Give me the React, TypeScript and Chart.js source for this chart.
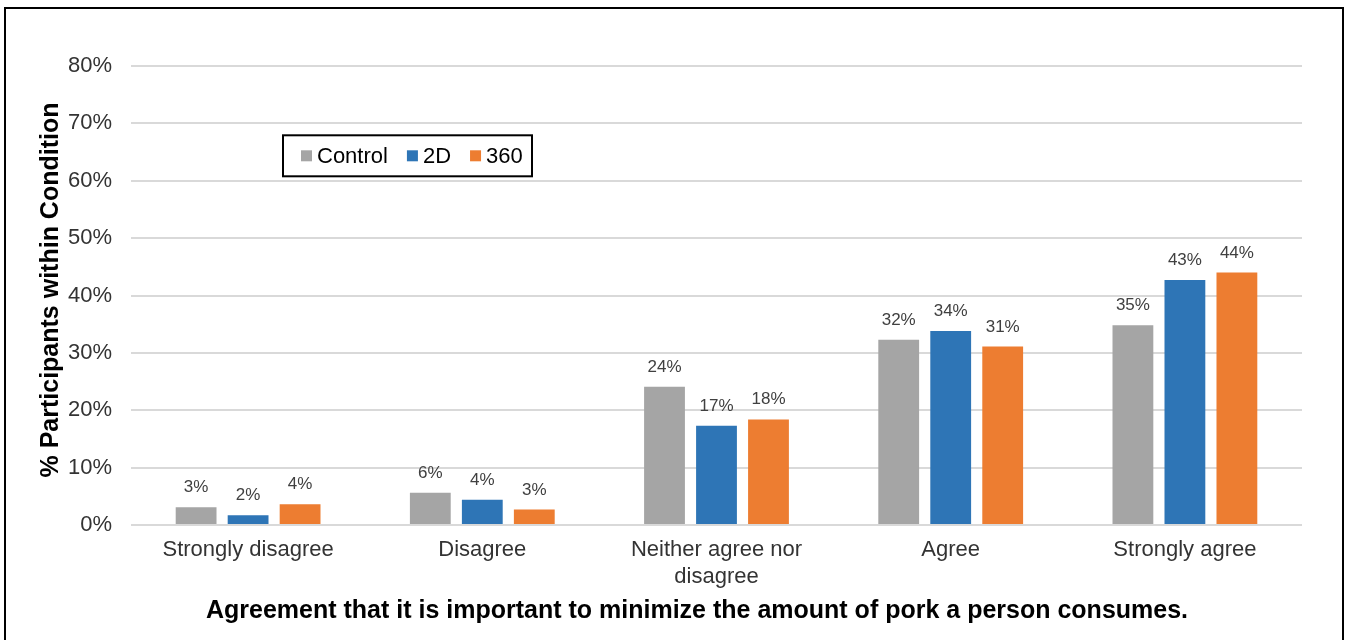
import { useEffect, useRef } from "react";
import { Chart, registerables } from "chart.js";

Chart.register(...registerables);

const FONT = "'Liberation Sans', Arial, Helvetica, sans-serif";

// Response categories along the x axis
const categories: string[][] = [
  ["Strongly disagree"],
  ["Disagree"],
  ["Neither agree nor", "disagree"],
  ["Agree"],
  ["Strongly agree"],
];

// Percentage of participants within each condition
const seriesNames = ["Control", "2D", "360"];
const controlValues = [3.1, 5.6, 24.1, 32.3, 34.8];
const twoDValues = [1.7, 4.4, 17.3, 33.8, 42.7];
const threeSixtyValues = [3.6, 2.7, 18.4, 31.1, 44.0];
const seriesColors = ["#A5A5A5", "#2E75B6", "#ED7D31"];

// Value axis
const yMin = 0;
const yMax = 80;
const yStep = 10;

const yTitle = "% Participants within Condition";
const xTitle = "Agreement that it is important to minimize the amount of pork a person consumes.";

// Outer frame around the whole figure
const framePlugin = {
  id: "frame",
  afterDraw(chart: any) {
    const { ctx, width, height } = chart;
    ctx.save();
    ctx.fillStyle = "#000";
    ctx.fillRect(4, 7, width - 9, 2);
    ctx.fillRect(4, 7, 2, height);
    ctx.fillRect(width - 7, 7, 2, height);
    ctx.restore();
  },
};

// Percent labels above each bar
const valueLabelPlugin = {
  id: "valueLabels",
  afterDatasetsDraw(chart: any) {
    const { ctx } = chart;
    ctx.save();
    ctx.font = `17px ${FONT}`;
    ctx.fillStyle = "#404040";
    ctx.textAlign = "center";
    ctx.textBaseline = "alphabetic";
    chart.data.datasets.forEach((ds: any, di: number) => {
      const meta = chart.getDatasetMeta(di);
      meta.data.forEach((bar: any, i: number) => {
        const v = ds.data[i] as number;
        ctx.fillText(`${Math.round(v)}%`, bar.x, bar.y - 15);
      });
    });
    ctx.restore();
  },
};

// Boxed legend placed inside the plot area
const legendBoxPlugin = {
  id: "legendBox",
  afterDraw(chart: any) {
    const { ctx, chartArea } = chart;
    const left = chartArea.left + 152;
    const top = chartArea.top + 69.3;
    const w = 249;
    const h = 41;
    ctx.save();
    ctx.fillStyle = "#fff";
    ctx.fillRect(left, top, w, h);
    ctx.lineWidth = 2;
    ctx.strokeStyle = "#000";
    ctx.strokeRect(left, top, w, h);
    ctx.font = `22px ${FONT}`;
    ctx.textBaseline = "middle";
    ctx.textAlign = "left";
    const cy = top + h / 2;
    let x = left + 18;
    chart.data.datasets.forEach((ds: any) => {
      ctx.fillStyle = ds.backgroundColor;
      ctx.fillRect(x, cy - 5.5, 11, 11);
      x += 16;
      ctx.fillStyle = "#000";
      ctx.fillText(ds.label, x, cy + 1);
      x += ctx.measureText(ds.label).width + 19;
    });
    ctx.restore();
  },
};

// Bold axis titles: one under the category axis, one rotated beside the value axis
const axisTitlePlugin = {
  id: "axisTitles",
  afterDraw(chart: any) {
    const { ctx, chartArea } = chart;
    ctx.save();
    ctx.font = `bold 25px ${FONT}`;
    ctx.fillStyle = "#000";
    ctx.textAlign = "center";
    ctx.textBaseline = "alphabetic";
    ctx.fillText(xTitle, (chartArea.left + chartArea.right) / 2 - 19.5, chartArea.bottom + 93);

    ctx.translate(57.5, (chartArea.top + chartArea.bottom) / 2 - 5.5);
    ctx.rotate(-Math.PI / 2);
    ctx.fillText(yTitle, 0, 0);
    ctx.restore();
  },
};

export default function App() {
  const canvasRef = useRef<HTMLCanvasElement | null>(null);

  useEffect(() => {
    const canvas = canvasRef.current;
    if (!canvas) return;
    const valueSets = [controlValues, twoDValues, threeSixtyValues];
    const chart = new Chart(canvas, {
      type: "bar",
      data: {
        labels: categories,
        datasets: seriesNames.map((name, i) => ({
          label: name,
          data: valueSets[i],
          backgroundColor: seriesColors[i],
          borderWidth: 0,
          categoryPercentage: 0.666,
          barPercentage: 0.785,
        })),
      },
      options: {
        responsive: false,
        animation: false,
        devicePixelRatio: 1,
        layout: { padding: { left: 0, top: 66, right: 47, bottom: 0 } },
        plugins: {
          legend: { display: false },
          tooltip: { enabled: false },
          title: { display: false },
        },
        scales: {
          x: {
            grid: { display: false, drawTicks: false },
            border: { display: false },
            ticks: {
              font: { family: FONT, size: 22 },
              color: "#333333",
              padding: 12,
              maxRotation: 0,
              minRotation: 0,
              autoSkip: false,
            },
            afterFit(scale: any) {
              scale.height = 115;
            },
          },
          y: {
            min: yMin,
            max: yMax,
            grid: { color: "#D9D9D9", lineWidth: 2, drawTicks: false },
            border: { display: false },
            ticks: {
              stepSize: yStep,
              font: { family: FONT, size: 22 },
              color: "#333333",
              padding: 19,
              callback: (v: any) => `${v}%`,
            },
            afterFit(scale: any) {
              scale.width = 131;
            },
          },
        },
      },
      plugins: [valueLabelPlugin, legendBoxPlugin, axisTitlePlugin, framePlugin],
    });
    return () => chart.destroy();
  }, []);

  return (
    <div style={{ position: "absolute", left: 0, top: 0, width: 1349, height: 640, background: "#fff" }}>
      <canvas ref={canvasRef} width={1349} height={640} style={{ width: 1349, height: 640 }} />
    </div>
  );
}
